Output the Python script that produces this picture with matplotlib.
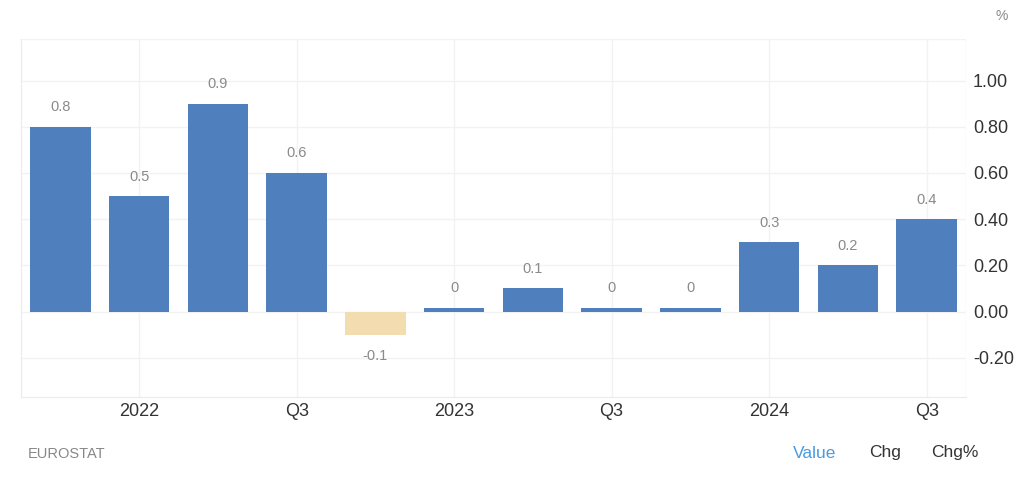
import matplotlib
matplotlib.use("Agg")
import matplotlib.pyplot as plt
import numpy as np

plt.rcParams['font.family'] = ['Liberation Sans', 'DejaVu Sans']

quarters = ["Q4 2021", "Q1 2022", "Q2 2022", "Q3 2022", "Q4 2022", "Q1 2023",
            "Q2 2023", "Q3 2023", "Q4 2023", "Q1 2024", "Q2 2024", "Q3 2024"]
values = [0.8, 0.5, 0.9, 0.6, -0.1, 0.0, 0.1, 0.0, 0.0, 0.3, 0.2, 0.4]
tick_labels = ["", "2022", "", "Q3", "", "2023", "", "Q3", "", "2024", "", "Q3"]
yticks = [-0.2, 0.0, 0.2, 0.4, 0.6, 0.8, 1.0]

pos_color = "#4f7fbd"
neg_color = "#f3dcb0"

fig = plt.figure(figsize=(10.24, 4.82), dpi=100)
ax = fig.add_axes([21/1024, 1 - 397/482, (966 - 21)/1024, (397 - 39)/482])

x = np.arange(len(values))
vals = np.array(values)
disp = np.where(vals == 0, 0.017, vals)
colors = [neg_color if v < 0 else pos_color for v in vals]
ax.bar(x, disp, width=0.77, color=colors, zorder=3)

for xi, v in zip(x, vals):
    lab = "0" if v == 0 else f"{v:g}"
    if v < 0:
        ax.annotate(lab, (xi, v), xytext=(0, -10), textcoords="offset points",
                    ha="center", va="top", fontsize=10.5, color="#8a8a8a")
    else:
        top = max(v, 0.017)
        ax.annotate(lab, (xi, top), xytext=(0, 9), textcoords="offset points",
                    ha="center", va="bottom", fontsize=10.5, color="#8a8a8a")

ax.set_xlim(-0.5, len(values) - 0.5)
ax.set_ylim(-0.37, 1.18)

ax.set_xticks([i for i, t in enumerate(tick_labels) if t])
ax.set_xticklabels([t for t in tick_labels if t], fontsize=13, color="#333333")
ax.set_yticks(yticks)
ax.set_yticklabels([f"{v:.2f}" for v in yticks], fontsize=13, color="#333333")
ax.yaxis.tick_right()
ax.tick_params(axis="both", length=0)
ax.tick_params(axis="y", pad=5)
ax.tick_params(axis="x", pad=4)

ax.grid(True, color="#f2f2f2", linewidth=1, zorder=0)
ax.axhline(1.18, color="#f2f2f2", lw=1, zorder=0)
for s in ["top", "right"]:
    ax.spines[s].set_visible(False)
ax.spines["left"].set_color("#ebebeb")
ax.spines["bottom"].set_color("#ebebeb")
ax.axvline(len(values) - 0.5, color="#ebebeb", lw=1, zorder=0)

fig.text(1002/1024, 1 - 16/482, "%", fontsize=10, color="#888888", ha="center", va="center")
fig.text(28/1024, 1 - 454/482, "EUROSTAT", fontsize=10.5, color="#888888", ha="left", va="center")
fig.text(815/1024, 1 - 453/482, "Value", fontsize=12.5, color="#4a9be0", ha="center", va="center")
fig.text(885/1024, 1 - 453/482, "Chg", fontsize=12.5, color="#333333", ha="center", va="center")
fig.text(955/1024, 1 - 453/482, "Chg%", fontsize=12.5, color="#333333", ha="center", va="center")

fig.savefig("out.png", dpi=100)
